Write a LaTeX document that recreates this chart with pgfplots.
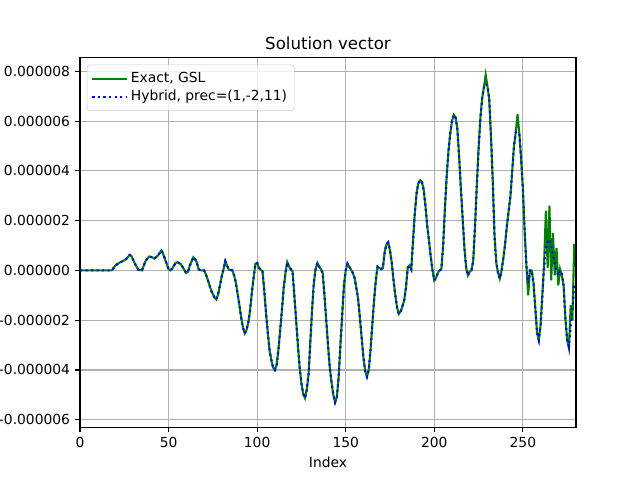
\documentclass[border=0pt]{standalone}
\usepackage{pgfplots}
\pgfplotsset{compat=1.18}
\usepackage{pgfplotstable}
\usepackage{fontspec}
\setmainfont{DejaVu Sans}
\definecolor{mplgreen}{rgb}{0,0.5,0}
\definecolor{mplgrid}{rgb}{0.69,0.69,0.69}
\definecolor{mplframe}{rgb}{0.8,0.8,0.8}
\pgfplotstableread{
x g h
0 0 0
18 0 0
20 0.2 0.2
22 0.3 0.3
24 0.37 0.37
26 0.45 0.45
28 0.62 0.62
29 0.58 0.58
31 0.27 0.27
33 0.02 0.02
35 0 0
37 0.38 0.38
39 0.56 0.56
41 0.52 0.52
42 0.47 0.47
44 0.6 0.6
46 0.8 0.8
47 0.65 0.65
48 0.45 0.45
50 0.05 0.05
51 0 0
52 0.07 0.07
54 0.3 0.3
55 0.33 0.33
57 0.25 0.25
59 0 0
60 -0.1 -0.1
61 -0.05 -0.05
62 0.2 0.2
64 0.53 0.53
65 0.45 0.45
66 0.3 0.3
67 0.05 0.05
68 0 0
70 0 0
71 -0.15 -0.15
72 -0.35 -0.35
74 -0.8 -0.8
76 -1.1 -1.1
77 -1.17 -1.17
78 -0.95 -0.95
79 -0.6 -0.6
80 -0.25 -0.25
81 0.05 0.05
82 0.37 0.37
83 0.2 0.2
84 0.03 0.03
86 0 0
87 -0.2 -0.2
88 -0.5 -0.5
89 -0.95 -0.95
90 -1.4 -1.4
91 -1.9 -1.9
92 -2.3 -2.3
93 -2.53 -2.53
94 -2.4 -2.4
95 -2.1 -2.1
96 -1.6 -1.6
97 -0.9 -0.9
98 -0.3 -0.3
99 0.27 0.27
100 0.3 0.3
101 0.1 0.1
103 -0.03 -0.03
104 -0.8 -0.8
105 -1.7 -1.7
106 -2.5 -2.5
107 -3.2 -3.2
108 -3.6 -3.6
109 -3.9 -3.9
110 -4.0 -4.0
111 -3.8 -3.8
112 -3.2 -3.2
113 -2.4 -2.4
114 -1.6 -1.6
115 -0.7 -0.7
116 -0.1 -0.1
117 0.33 0.33
118 0.15 0.15
119 0.05 0.05
120 -0.05 -0.05
121 -1.0 -1.0
122 -2.0 -2.0
123 -3.0 -3.0
124 -3.9 -3.9
125 -4.55 -4.55
126 -4.95 -4.95
127 -5.13 -5.13
128 -4.8 -4.8
129 -4.2 -4.2
130 -2.9 -2.9
131 -1.6 -1.6
132 -0.5 -0.5
133 0.05 0.05
134 0.3 0.3
135 0.15 0.15
136 0.05 0.05
137 -0.1 -0.1
138 -1.0 -1.0
139 -2.0 -2.0
140 -3.0 -3.0
141 -3.9 -3.9
142 -4.5 -4.5
143 -5.0 -5.0
144 -5.3 -5.3
145 -5.1 -5.1
146 -4.3 -4.3
147 -3.0 -3.0
148 -1.8 -1.8
149 -0.6 -0.6
150 0 0
151 0.27 0.27
152 0.15 0.15
153 0.03 0.03
154 -0.1 -0.1
155 -0.3 -0.3
156 -0.7 -0.7
157 -1.15 -1.15
158 -1.9 -1.9
159 -2.7 -2.7
160 -3.5 -3.5
161 -4.05 -4.05
162 -4.27 -4.27
163 -4.0 -4.0
164 -3.2 -3.2
165 -2.2 -2.2
166 -1.2 -1.2
167 -0.4 -0.4
168 0.15 0.15
169 0.1 0.1
170 0.05 0.05
171 0.1 0.1
172 0.75 0.75
173 1.05 1.05
174 1.13 1.13
175 0.8 0.8
176 0.3 0.3
177 -0.4 -0.4
178 -1.0 -1.0
179 -1.5 -1.5
180 -1.75 -1.75
181 -1.65 -1.65
182 -1.45 -1.45
183 -1.2 -1.2
184 -0.7 -0.7
185 0.1 0.1
186 0.2 0.2
187 0.05 0.05
188 1.2 1.2
189 2.3 2.3
190 3.1 3.1
191 3.5 3.5
192 3.62 3.62
193 3.55 3.55
194 3.25 3.25
195 2.6 2.6
196 1.8 1.8
197 1.2 1.2
198 0.55 0.55
199 0 0
200 -0.4 -0.4
201 -0.3 -0.3
202 -0.1 -0.1
203 0 0
204 0.05 0.05
205 1.0 1.0
206 2.5 2.5
207 3.8 3.8
208 4.8 4.8
209 5.5 5.5
210 6.0 6.0
211 6.25 6.25
212 6.15 6.15
213 5.7 5.7
214 4.6 4.6
215 3.3 3.3
216 2.1 2.1
217 0.9 0.9
218 0.1 0.1
219 -0.2 -0.2
220 -0.05 -0.05
221 0 0
222 0.4 0.4
223 1.8 1.8
224 3.4 3.4
225 4.9 4.9
226 6.1 6.1
227 6.9 6.9
228 7.35 7.35
229 7.85 7.5
230 7.4 7.4
231 6.9 6.9
232 5.4 5.4
233 3.6 3.6
234 1.4 1.4
235 0.3 0.3
236 -0.1 -0.1
237 -0.33 -0.33
238 0.0 0.0
239 0.5 0.5
240 1.07 1.07
241 1.8 1.8
242 2.4 2.4
243 3.0 3.0
244 4.0 4.0
245 5.0 5.0
246 5.55 5.55
247 6.27 5.5
248 5.5 5.5
249 4.5 4.5
250 3.3 3.3
251 1.6 1.6
252 0.2 0.2
253 -1.0 -0.5
254 0 0
255 0 0
256 -0.5 -0.5
257 -1.5 -1.5
258 -2.5 -2.5
259 -2.8 -2.8
260 -2.2 -2.2
261 -1.0 -1.0
262 0.3 0.1
263 2.4 0.9
264 0.1 1.15
265 2.6 1.25
266 -0.4 1.0
267 1.5 0.6
268 -0.2 0.3
269 0.9 0.0
270 -0.6 -0.2
271 0.05 0
272 -0.2 -0.1
273 -0.6 -0.6
274 -1.9 -1.9
275 -2.8 -2.8
276 -3.13 -3.05
277 -1.4 -2.3
278 -2.0 -1.5
279 1.07 -0.6
}\soldata
\begin{document}
\begin{tikzpicture}
\path[use as bounding box] (-0.8in,-0.528in) rectangle (5.6in,4.272in);
\begin{axis}[
  at={(0,0)}, anchor=south west,
  scale only axis,
  width=4.96in, height=3.696in,
  xmin=0, xmax=280,
  ymin=-6.30, ymax=8.55,
  xtick={0,50,100,150,200,250},
  ytick={-6,-4,-2,0,2,4,6,8},
  yticklabels={-0.000006,-0.000004,-0.000002,0.000000,0.000002,0.000004,0.000006,0.000008},
  /pgf/number format/assume math mode=true,
  tick label style={font=\fontsize{10}{12}\selectfont},
  xticklabel style={inner sep=0pt, anchor=north, yshift=-3.5bp},
  yticklabel style={inner sep=0pt, anchor=east, xshift=-3.5bp},
  tick align=outside,
  major tick length=3.5bp,
  every tick/.style={black, line width=0.8bp},
  xtick pos=bottom, ytick pos=left,
  axis line style={line width=0.8bp},
  grid=major,
  major grid style={color=mplgrid, line width=0.8bp},
  title={Solution vector},
  every axis title/.style={font=\fontsize{12}{14}\selectfont, at={(0.5,1)}, anchor=base, yshift=6bp, inner sep=0pt},
  xlabel={Index},
  xlabel style={font=\fontsize{10}{12}\selectfont, yshift=-3.3bp},
  legend cell align=left,
  legend style={at={(0,1)}, anchor=north west, xshift=5bp, yshift=-5bp,
    draw=mplframe, rounded corners=2bp, fill=white, fill opacity=0.8, text opacity=1,
    font=\fontsize{10}{12}\selectfont, inner xsep=3bp, inner ysep=3.5bp, row sep=0bp},
  legend image code/.code={\draw[#1] (0bp,0bp) -- (20bp,0bp); \path (0bp,0bp) -- (25bp,0bp);},
]
\addplot[mplgreen, line width=1.5bp] table[x=x, y=g] {\soldata};
\addlegendentry{Exact, GSL}
\addplot[blue, line width=1.5bp, dash pattern=on 1.5bp off 2.475bp] table[x=x, y=h] {\soldata};
\addlegendentry{Hybrid, prec=(1,-2,11)}
\end{axis}
\end{tikzpicture}
\end{document}
